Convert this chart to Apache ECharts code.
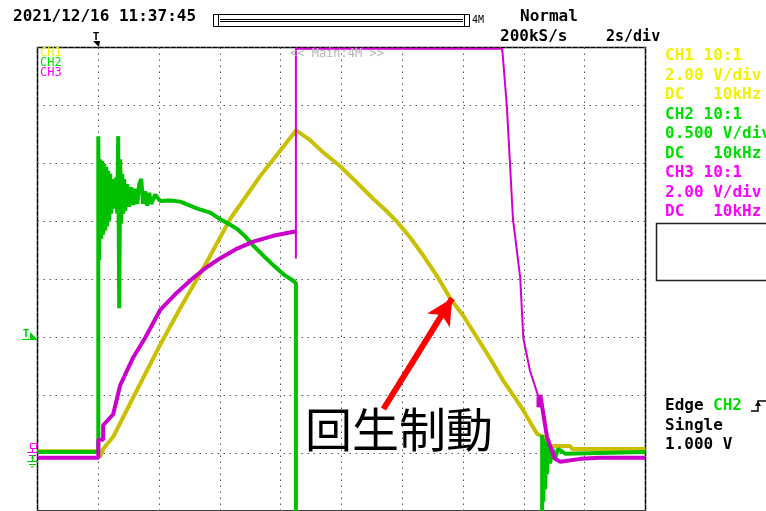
<!DOCTYPE html>
<html>
<head>
<meta charset="utf-8">
<script src="https://cdn.jsdelivr.net/npm/echarts@6/dist/echarts.min.js"></script>
<style>
  html, body { margin: 0; padding: 0; background: #fff; }
  #main { width: 766px; height: 511px; }
</style>
</head>
<body>
<div id="main"></div>
<script>
// screen units: x = divisions (2 s/div, trigger at 1 div), y = divisions from centre
const xTicks = [0, 1, 2, 3, 4, 5, 6, 7, 8, 9, 10];

// CH1 (yellow)
const ch1 = [
  [0, -2.97], [1.0, -2.97], [1.03, -3.07], [1.08, -2.93], [1.245, -2.72], [1.525, -2.14],
  [2.018, -1.13], [2.347, -0.5], [2.791, 0.31], [3.169, 1.04], [3.662, 1.78], [4.255, 2.57],
  [4.485, 2.4], [4.699, 2.19], [4.979, 1.95], [5.242, 1.68], [5.521, 1.39], [5.718, 1.2],
  [5.916, 0.99], [6.13, 0.72], [6.344, 0.41], [6.574, 0.05], [6.788, -0.33], [7.002, -0.63],
  [7.232, -1.01], [7.446, -1.37], [7.66, -1.75], [7.824, -2.0], [7.988, -2.26], [8.104, -2.47],
  [8.219, -2.67], [8.317, -2.72], [8.433, -2.88], [8.762, -2.88], [8.794, -2.93], [10, -2.93]
];

// CH2 (green) - ringing after start read as a zig-zag envelope
const ch2 = [
  [0, -2.98], [1.0, -2.98], [1.0, 2.47], [1.015, 0.33], [1.03, 2.07], [1.048, 0.7], [1.064, 2.04],
  [1.081, 0.77], [1.097, 1.99], [1.114, 0.84], [1.13, 1.94], [1.146, 0.91], [1.163, 1.87],
  [1.179, 1.01], [1.196, 1.82], [1.212, 1.13], [1.229, 1.73], [1.245, 1.22], [1.262, 1.68],
  [1.278, 1.3], [1.294, 1.76], [1.311, 1.13], [1.327, 2.47], [1.344, -0.5], [1.36, 2.07],
  [1.377, 0.96], [1.393, 1.82], [1.41, 1.13], [1.426, 1.73], [1.442, 1.18], [1.475, 1.64],
  [1.508, 1.25], [1.541, 1.59], [1.574, 1.28], [1.607, 1.56], [1.64, 1.3], [1.673, 1.64],
  [1.706, 1.73], [1.738, 1.3], [1.771, 1.52], [1.804, 1.27], [1.837, 1.49], [1.87, 1.3],
  [1.936, 1.46], [2.018, 1.35], [2.18, 1.36], [2.347, 1.34], [2.63, 1.22], [2.84, 1.15],
  [3.0, 1.04], [3.169, 0.94], [3.28, 0.87], [3.416, 0.74], [3.55, 0.58], [3.712, 0.41],
  [3.88, 0.24], [4.041, 0.09], [4.21, -0.03], [4.25, -0.07], [4.25, -4.3], [8.3, -4.3],
  [8.3, -2.69], [8.32, -3.84], [8.33, -2.76], [8.35, -3.63], [8.37, -2.81], [8.38, -3.36],
  [8.4, -2.84], [8.43, -3.18], [8.47, -2.93], [8.51, -3.1], [8.56, -2.93], [8.68, -3.01],
  [10, -2.98]
];

// CH3 (magenta)
const ch3Rise = [
  [0, -3.08], [1.0, -3.08], [1.0, -2.77], [1.08, -2.77], [1.08, -2.52], [1.245, -2.33],
  [1.36, -1.83], [1.574, -1.35], [1.771, -1.01], [2.018, -0.53], [2.265, -0.26], [2.56, 0.02],
  [2.758, 0.19], [3.0, 0.36], [3.284, 0.53], [3.55, 0.65], [3.877, 0.75], [4.21, 0.82], [4.25, 0.82]
];
const ch3Fall = [
  [4.25, 0.82], [4.25, 0.36], [4.25, 3.98], [7.64, 3.98], [7.65, 3.9], [7.72, 2.98],
  [7.77, 2.02], [7.82, 1.04], [7.94, 0.02], [7.99, -1.01], [8.1, -1.58], [8.24, -2.03]
];
const ch3Tail = [
  [8.24, -2.03], [8.24, -2.21], [8.27, -2.0], [8.38, -2.72], [8.51, -3.1], [8.6, -3.15],
  [8.93, -3.1], [9.25, -3.08], [10, -3.08]
];

// annotation arrow (tail, head) in divisions
const arrowPts = [[5.69, -2.24], [6.82, -0.33]];

const chLabels = [
  ['CH1 10:1', '2.00 V/div', 'DC   10kHz'],
  ['CH2 10:1', '0.500 V/div', 'DC   10kHz'],
  ['CH3 10:1', '2.00 V/div', 'DC   10kHz']
];
const panelColors = ['#f2f200', '#00e000', '#ff00ff'];

const mono = '"DejaVu Sans Mono", monospace';
function txt(x, y, s, color, size, bold, align) {
  return {
    type: 'text', x: x, y: y, z: 50,
    style: {
      text: s, fill: color,
      font: (bold ? 'bold ' : '') + size + 'px ' + mono,
      textAlign: align || 'left', textVerticalAlign: 'middle'
    }
  };
}
function ln(x1, y1, x2, y2, color, w) {
  return { type: 'line', z: 50, shape: { x1: x1, y1: y1, x2: x2, y2: y2 }, style: { stroke: color, lineWidth: w || 1 } };
}

const graphics = [
  txt(13, 17, '2021/12/16 11:37:45', '#000', 16, true),
  txt(520, 17, 'Normal', '#000', 16, true),
  txt(500, 37, '200kS/s', '#000', 16, true),
  txt(606, 37, '2s/div', '#000', 15, true),
  txt(472, 20, '4M', '#000', 10, false),
  { type: 'rect', z: 50, shape: { x: 213.5, y: 14.5, width: 5, height: 12 }, style: { fill: 'none', stroke: '#000', lineWidth: 1 } },
  { type: 'rect', z: 50, shape: { x: 218.5, y: 14.5, width: 246, height: 12 }, style: { fill: 'none', stroke: '#000', lineWidth: 1 } },
  { type: 'rect', z: 50, shape: { x: 464.5, y: 14.5, width: 5, height: 12 }, style: { fill: 'none', stroke: '#000', lineWidth: 1 } },
  ln(220, 19.5, 463, 19.5, '#000', 1),
  ln(220, 21.5, 463, 21.5, '#000', 1),
  // trigger position marker
  txt(96, 37, 'T', '#000', 11, true, 'center'),
  { type: 'polygon', z: 50, shape: { points: [[93, 41], [100, 41], [99, 47]] }, style: { fill: '#000' } },
  txt(290, 54, '<< Main:4M >>', '#b4b4b4', 12, false),
  txt(40, 53, 'CH1', panelColors[0], 12, false),
  txt(40, 63, 'CH2', panelColors[1], 12, false),
  txt(40, 73, 'CH3', panelColors[2], 12, false),
  // trigger level marker
  txt(26, 334, 'T', '#00d000', 11, true, 'center'),
  { type: 'polygon', z: 50, shape: { points: [[30, 332], [37, 339], [30, 339]] }, style: { fill: '#00d000' } },
  ln(22, 339.5, 37, 339.5, '#00d000', 1),
  // ground markers
  { type: 'rect', z: 50, shape: { x: 30.5, y: 443.5, width: 6, height: 5 }, style: { fill: 'none', stroke: '#ff00ff', lineWidth: 1 } },
  ln(32.5, 448, 32.5, 452, '#ff00ff', 1),
  ln(27, 452.5, 38, 452.5, '#ff00ff', 1),
  ln(29, 455.5, 36, 455.5, '#ff00ff', 1),
  ln(31, 458, 34, 458, '#ff00ff', 1),
  ln(32.5, 455, 32.5, 461, '#00d000', 1),
  ln(27, 461.5, 38, 461.5, '#00d000', 1),
  ln(29, 464.5, 36, 464.5, '#00d000', 1),
  ln(31, 467, 34, 467, '#00d000', 1),
  // right panel box
  { type: 'rect', z: 50, shape: { x: 656.5, y: 223.5, width: 112, height: 57 }, style: { fill: 'none', stroke: '#222', lineWidth: 1.5 } },
  txt(665, 406, 'Edge', '#000', 16, true),
  txt(713, 406, 'CH2', '#00e000', 16, true),
  { type: 'polyline', z: 50, shape: { points: [[751, 411], [758, 411], [758, 401], [766, 401]] }, style: { stroke: '#000', lineWidth: 1.5, fill: 'none' } },
  { type: 'polygon', z: 50, shape: { points: [[755, 406], [761, 406], [758, 401]] }, style: { fill: '#000' } },
  txt(665, 426, 'Single', '#000', 16, true),
  txt(665, 445, '1.000 V', '#000', 16, true),
  {
    type: 'text', x: 305, y: 429, z: 60,
    style: { text: '回生制動', fill: '#000', font: '47px "Noto Sans CJK JP"', textAlign: 'left', textVerticalAlign: 'middle' }
  }
];
chLabels.forEach(function (rows, i) {
  rows.forEach(function (s, j) {
    graphics.push(txt(665, 56 + i * 58.5 + j * 19.5, s, panelColors[i], 16, true));
  });
});

const chart = echarts.init(document.getElementById('main'));
const axisCommon = {
  type: 'value',
  axisLine: { show: false },
  axisTick: { show: false },
  axisLabel: { show: false },
  splitLine: { show: true, lineStyle: { color: '#555', width: 1, type: [1.5, 4.5] } }
};

chart.setOption({
  animation: false,
  backgroundColor: '#fff',
  grid: { left: 37.5, top: 47.5, width: 608, height: 467, show: true, borderColor: '#000', borderWidth: 1.5 },
  xAxis: Object.assign({}, axisCommon, { min: xTicks[0], max: xTicks[xTicks.length - 1], interval: 1 }),
  yAxis: Object.assign({}, axisCommon, { min: -4, max: 4, interval: 1 }),
  series: [
    {
      name: 'CH1', type: 'line', data: ch1, symbol: 'none', z: 3,
      lineStyle: { color: '#c8c000', width: 4 },
      markLine: {
        silent: true, symbol: ['none', 'arrow'], symbolSize: [20, 26], z: 20,
        lineStyle: { color: '#ff0000', width: 6, type: 'solid' },
        label: { show: false },
        data: [[{ coord: arrowPts[0] }, { coord: arrowPts[1] }]]
      }
    },
    { name: 'CH2', type: 'line', data: ch2, symbol: 'none', z: 4, lineStyle: { color: '#00c000', width: 4 } },
    { name: 'CH3', type: 'line', data: ch3Rise, symbol: 'none', z: 5, lineStyle: { color: '#cc00cc', width: 4 } },
    { name: 'CH3b', type: 'line', data: ch3Fall, symbol: 'none', z: 5, lineStyle: { color: '#d000d0', width: 2 } },
    { name: 'CH3c', type: 'line', data: ch3Tail, symbol: 'none', z: 5, lineStyle: { color: '#cc00cc', width: 4 } }
  ],
  graphic: graphics
});
</script>
</body>
</html>
